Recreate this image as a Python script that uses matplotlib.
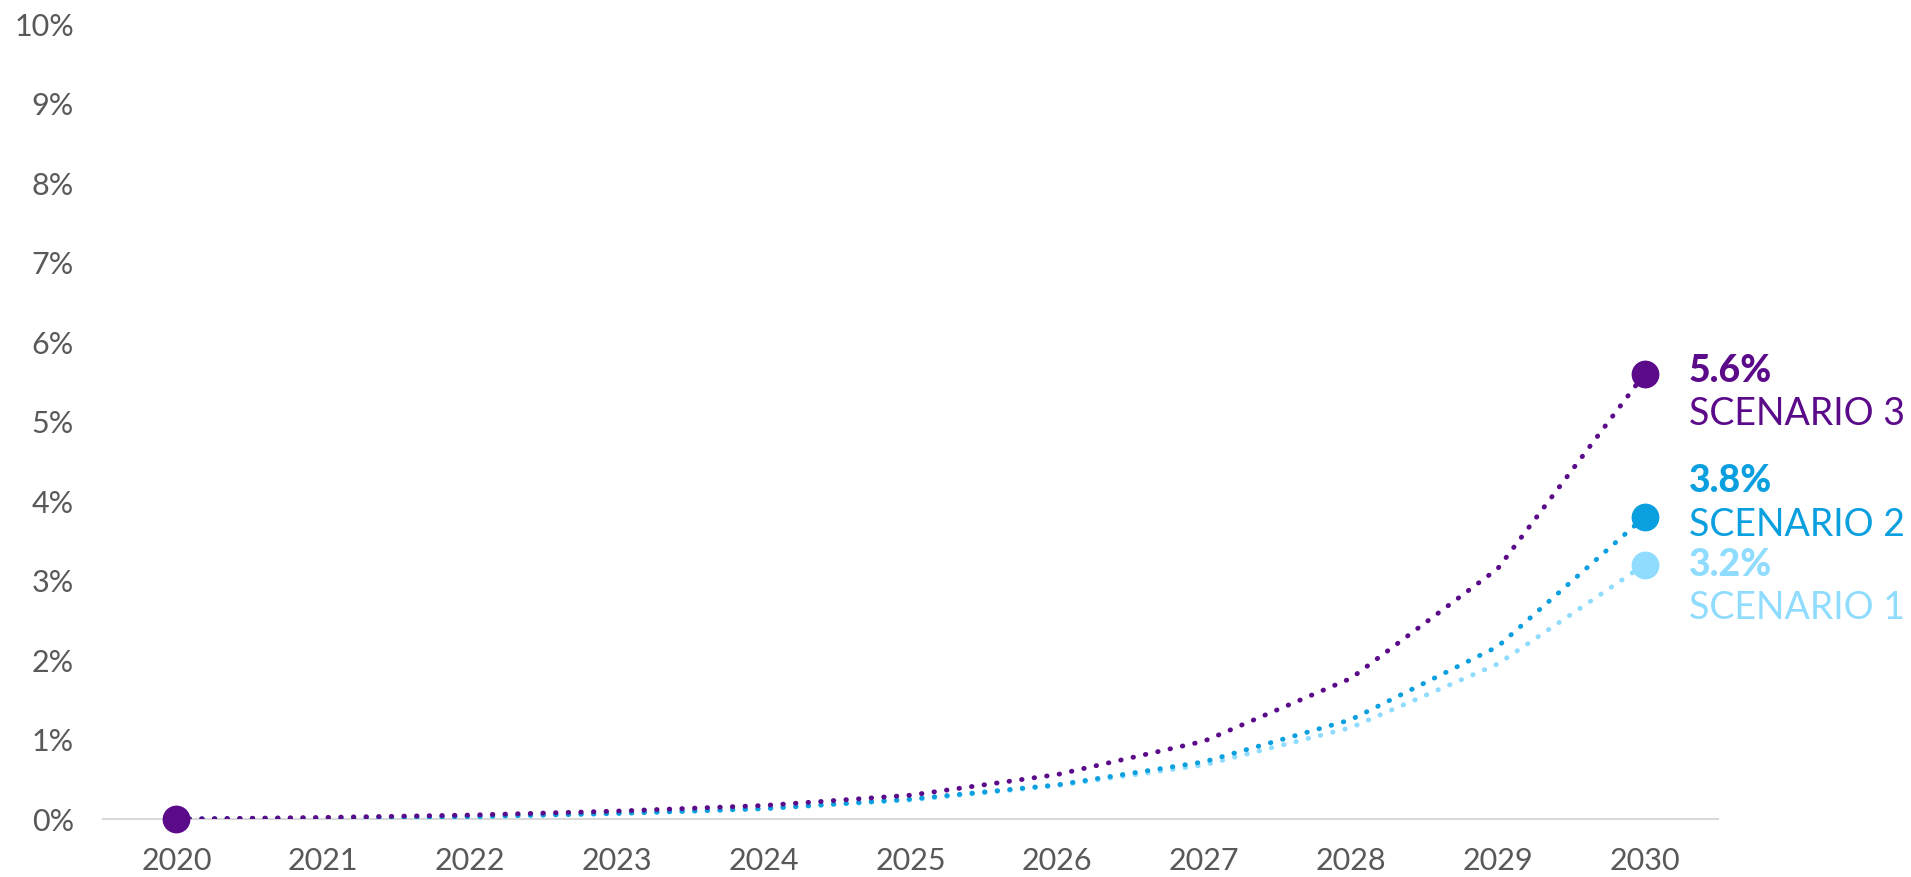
import matplotlib.pyplot as plt
from matplotlib.ticker import FuncFormatter

plt.rcParams['font.family'] = ['Lato', 'DejaVu Sans']

years = [2020, 2021, 2022, 2023, 2024, 2025, 2026, 2027, 2028, 2029, 2030]
scenario1 = [0, 0.01, 0.03, 0.07, 0.13, 0.24, 0.42, 0.68, 1.15, 1.95, 3.2]
scenario2 = [0, 0.01, 0.03, 0.07, 0.13, 0.25, 0.43, 0.72, 1.25, 2.17, 3.8]
scenario3 = [0, 0.02, 0.05, 0.10, 0.17, 0.30, 0.56, 0.98, 1.77, 3.15, 5.6]

names = ["SCENARIO 1", "SCENARIO 2", "SCENARIO 3"]
values = [scenario1, scenario2, scenario3]
colors = ["#8FDCFF", "#0A9FDF", "#5B0A8A"]
# label offsets (points) for value / name text, relative to end marker
value_dy = [0, 26, 2]
name_dy = [-31, -6, -29]

fig = plt.figure(figsize=(19.11, 8.77), dpi=100)
ax = fig.add_axes([0.0539, 0.0661, 0.8451, 0.9065])

for i in range(3):
    ax.plot(years, values[i], color=colors[i], lw=3.5,
            linestyle=(0, (0.1, 2.5)), dash_capstyle='round', zorder=3 + i)
    ax.plot(years[-1], values[i][-1], 'o', color=colors[i], ms=19,
            zorder=6 + i, clip_on=False)
    ax.annotate(f"{values[i][-1]:.1f}%", (years[-1], values[i][-1]),
                xytext=(32, value_dy[i]), textcoords='offset points',
                ha='left', va='center', fontsize=27, fontweight='black',
                color=colors[i])
    ax.annotate(names[i], (years[-1], values[i][-1]),
                xytext=(32, name_dy[i]), textcoords='offset points',
                ha='left', va='center', fontsize=27, color=colors[i])

# start point
ax.plot(years[0], scenario3[0], 'o', color=colors[2], ms=19, zorder=10,
        clip_on=False)

ax.set_xlim(2019.5, 2030.5)
ax.set_ylim(0, 10)
ax.set_xticks(years)
ax.set_yticks(range(0, 11))
ax.yaxis.set_major_formatter(FuncFormatter(lambda v, p: f"{int(v)}%"))
ax.tick_params(length=0, labelsize=22, labelcolor="#595959")
ax.tick_params(axis='y', pad=21)
ax.tick_params(axis='x', pad=20)

for s in ["top", "right", "left"]:
    ax.spines[s].set_visible(False)
ax.spines["bottom"].set_color("#D9D9D9")
ax.spines["bottom"].set_linewidth(1.5)

plt.savefig("out.png", dpi=100)
